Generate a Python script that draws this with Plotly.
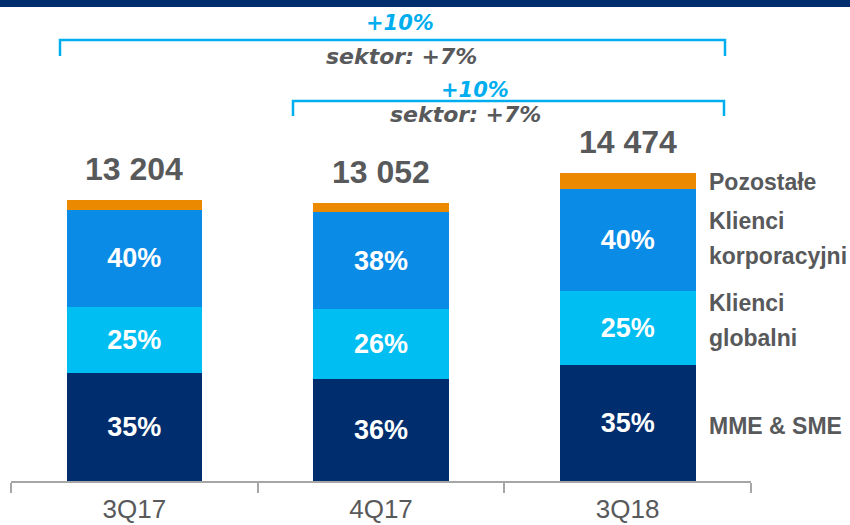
import plotly.graph_objects as go

# ---- data ----
categories = ["3Q17", "4Q17", "3Q18"]
totals = [13204, 13052, 14474]
mme_sme = [5070, 4787, 5444]
klienci_globalni = [3090, 3299, 3473]
klienci_korporacyjni = [4570, 4519, 4773]
pozostale = [474, 447, 784]

mme_pct = ["35%", "36%", "35%"]
glob_pct = ["25%", "26%", "25%"]
korp_pct = ["40%", "38%", "40%"]

series_names = ["MME & SME", "Klienci globalni", "Klienci korporacyjni", "Pozostałe"]
growth_labels = ["+10%", "+10%"]
sector_labels = ["sektor: +7%", "sektor: +7%"]

# ---- style ----
NAVY = "#002D6E"
LIGHT = "#00BEF2"
MID = "#0A8BE6"
ORANGE = "#EB8A00"
GREY = "#58595B"
CYAN = "#00AEEF"
FONT = "Liberation Sans, Arial, sans-serif"

W, H = 850, 525
M_L, M_R, M_T, M_B = 11, 99, 0, 44
PLOT_H = H - M_T - M_B
Y_MAX = 22575


def py(pix):
    """pixel y (from top of figure) -> paper fraction"""
    return (H - M_B - pix) / PLOT_H


def px(pix):
    """pixel x -> data x on category axis"""
    return (pix - M_L) / ((W - M_L - M_R) / 3) - 0.5


fig = go.Figure()
seg_text_font = dict(family=FONT, size=27, color="white", weight="bold")
for vals, col, txt, name in [
    (mme_sme, NAVY, mme_pct, series_names[0]),
    (klienci_globalni, LIGHT, glob_pct, series_names[1]),
    (klienci_korporacyjni, MID, korp_pct, series_names[2]),
    (pozostale, ORANGE, ["", "", ""], series_names[3]),
]:
    fig.add_trace(go.Bar(
        x=categories, y=vals, name=name, marker_color=col,
        marker_line_width=0, width=0.55,
        text=txt, textposition="inside", insidetextanchor="middle",
        textangle=0, constraintext="none", textfont=seg_text_font,
        hoverinfo="skip",
    ))

annotations = []
# totals above bars
for c, t in zip(categories, totals):
    annotations.append(dict(
        x=c, y=t, text=f"{t:,}".replace(",", " "), showarrow=False,
        yanchor="middle", yshift=31,
        font=dict(family=FONT, size=32, color=GREY, weight="bold"),
    ))

# right-side series labels aligned to the 3Q18 stack
last = 2
cum = 0
mids = []
for vals in [mme_sme, klienci_globalni, klienci_korporacyjni, pozostale]:
    mids.append(cum + vals[last] / 2)
    cum += vals[last]
lab_font = dict(family=FONT, size=23, color=GREY, weight="bold")
lab_x = px(707)
right_labels = [
    (mids[0], ["MME & SME"], -3),
    (mids[1], ["Klienci", "globalni"], 8),
    (mids[2], ["Klienci", "korporacyjni"], 2),
    (mids[3], ["Pozostałe"], -1),
]
for ymid, lines, shift in right_labels:
    n = len(lines)
    for i, ln in enumerate(lines):
        off = (i - (n - 1) / 2) * 35
        annotations.append(dict(
            x=lab_x, y=ymid, xref="x", yref="y", text=ln, showarrow=False,
            xanchor="left", yanchor="middle", yshift=shift - off,
            font=lab_font,
        ))

# growth brackets
brackets = [
    # (x0 px, x1 px, line y px, tick bottom px, growth center (x,y), sector center (x,y))
    (60, 725, 40, 56, (400, 23), (401, 56)),
    (293, 724, 101, 116, (475, 90), (465, 114)),
]
shapes = []
for (x0, x1, yl, yb, gc, sc), g, s in zip(brackets, growth_labels, sector_labels):
    shapes.append(dict(
        type="path", xref="x", yref="paper",
        path=f"M {px(x0)},{py(yb)} L {px(x0)},{py(yl)} L {px(x1)},{py(yl)} L {px(x1)},{py(yb)}",
        line=dict(color=CYAN, width=2.5),
    ))
    annotations.append(dict(
        x=px(gc[0]), y=py(gc[1]), xref="x", yref="paper", text=g, showarrow=False,
        xanchor="center", yanchor="middle",
        font=dict(family="DejaVu Sans", size=21, color=CYAN, weight="bold", style="italic"),
    ))
    annotations.append(dict(
        x=px(sc[0]), y=py(sc[1]), xref="x", yref="paper", text=s, showarrow=False,
        xanchor="center", yanchor="middle",
        font=dict(family="DejaVu Sans", size=22, color=GREY, weight="bold", style="italic"),
    ))

# top navy band
shapes.append(dict(type="rect", xref="paper", yref="paper",
                   x0=-0.05, x1=1.2, y0=py(7), y1=1.01,
                   fillcolor=NAVY, line_width=0, layer="above"))

fig.update_layout(
    width=W, height=H, barmode="stack", showlegend=False,
    margin=dict(l=M_L, r=M_R, t=M_T, b=M_B, autoexpand=False),
    plot_bgcolor="white", paper_bgcolor="white",
    shapes=shapes, annotations=annotations,
    xaxis=dict(
        range=[-0.5, 2.5], showline=True, linecolor="#A6A6A6", linewidth=1.5,
        ticks="outside", tickson="boundaries", ticklen=10, tickcolor="#A6A6A6",
        tickwidth=1.5, showgrid=False, zeroline=False, automargin=False,
        tickfont=dict(family=FONT, size=26, color=GREY),
        ticklabelstandoff=4,
    ),
    yaxis=dict(range=[0, Y_MAX], visible=False, showgrid=False, zeroline=False),
    bargap=0.45,
)

fig.write_html(
    "out.html",
    config={"displayModeBar": False},
    post_script="document.body.style.margin='0px';document.body.style.overflow='hidden';",
)
